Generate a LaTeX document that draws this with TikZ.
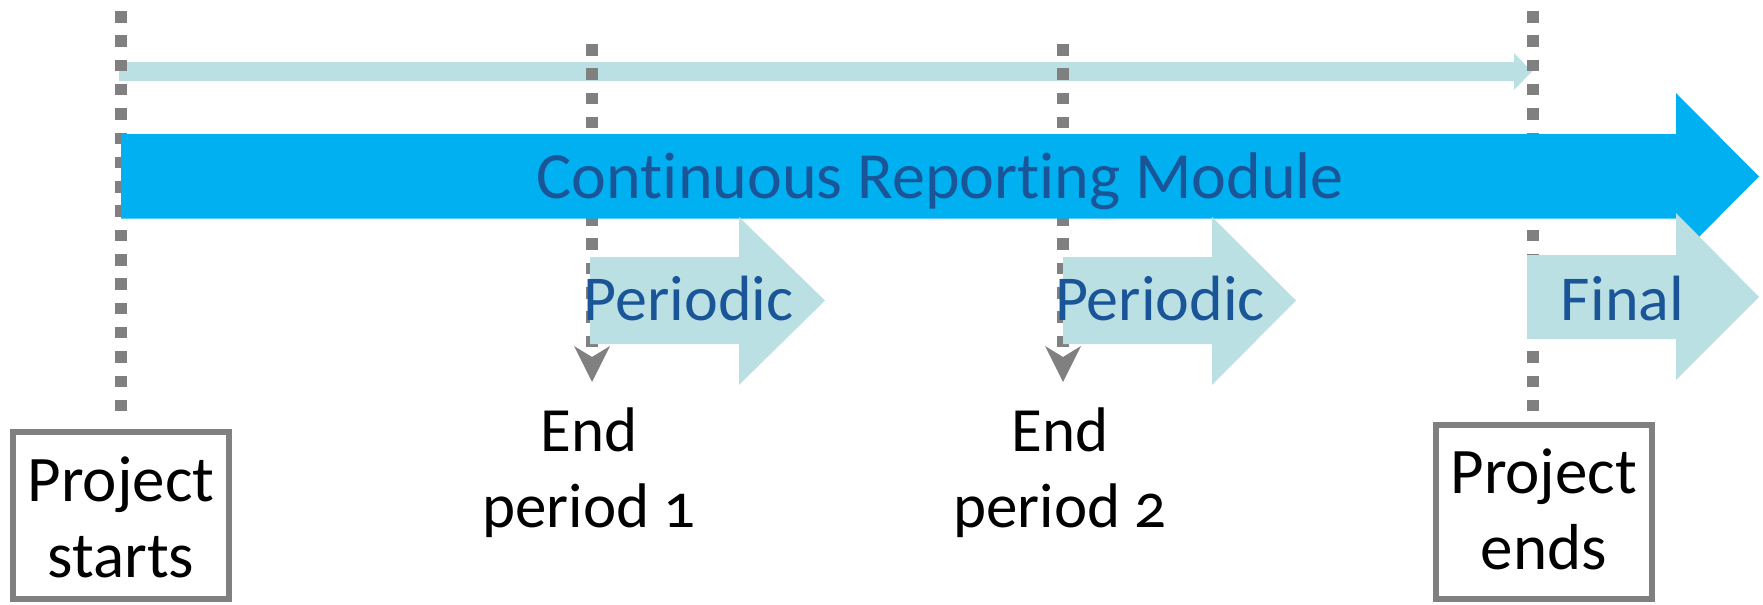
\documentclass[tikz,border=0pt]{standalone}
\usepackage{fontspec}
\setmainfont{Carlito}[Numbers=OldStyle, Ligatures=NoCommon]
\usetikzlibrary{arrows.meta}
\definecolor{mainblue}{HTML}{00B0F0}
\definecolor{paleteal}{HTML}{BAE0E3}
\definecolor{labelblue}{HTML}{1A5598}
\definecolor{markgrey}{HTML}{808080}
\tikzset{
  dotline/.style={draw=markgrey, line width=6pt, dash pattern=on 5.75pt off 6.4pt},
  dotarrow/.style={dotline, -{Stealth[length=18pt, width=18pt, inset=5.5pt, line width=0pt]}},
  blocktext/.style={text=labelblue, font=\fontsize{32}{38}\selectfont, inner sep=0pt, anchor=base},
  blacktext/.style={text=black, font=\fontsize{31.5}{38}\selectfont, align=center, inner sep=0pt},
  pbox/.style={draw=markgrey, line width=3pt, minimum width=108pt, minimum height=83.5pt,
    align=center, inner sep=0pt, font=\fontsize{32.5}{38}\selectfont, text depth=0pt}
}
\begin{document}
\begin{tikzpicture}[x=0.5pt,y=-0.5pt]
\useasboundingbox (0,0) rectangle (1763,605);
% thin arrow (whole project span)
\fill[paleteal] (119,62) -- (1514,62) -- (1514,53) -- (1532,71.5) -- (1514,90) -- (1514,81) -- (119,81) -- cycle;
% dotted time markers
\coordinate (stop) at (121,11);
\coordinate (sbot) at (121,412);
\coordinate (ftop) at (1533,11);
\coordinate (fbot) at (1533,412);
\coordinate (m1top) at (592,44);
\coordinate (m1tip) at (592,382);
\coordinate (m2top) at (1063,44);
\coordinate (m2tip) at (1063,382);
\draw[dotline] (stop) -- (sbot);
\draw[dotline] (ftop) -- (fbot);
\draw[dotarrow] (m1top) -- (m1tip);
\draw[dotarrow] (m2top) -- (m2tip);
% big blue arrow
\fill[mainblue] (121,134) -- (1676,134) -- (1676,93) -- (1759,176.5) -- (1676,260) -- (1676,218.5) -- (121,218.5) -- cycle;
% periodic and final arrows
\fill[paleteal] (590,257) -- (739,257) -- (739,217) -- (825,300.5) -- (739,385) -- (739,344) -- (590,344) -- cycle;
\fill[paleteal] (1063,257) -- (1212,257) -- (1212,217) -- (1296,300.5) -- (1212,385) -- (1212,344) -- (1063,344) -- cycle;
\fill[paleteal] (1527,255) -- (1676,255) -- (1676,213) -- (1759,297) -- (1676,380) -- (1676,339) -- (1527,339) -- cycle;
% texts
\node[blocktext, font=\fontsize{33}{40}\selectfont] (crm) at (940.5,198.5) {Continuous Reporting Module};
\node[blocktext] (per1) at (688.5,320.7) {Periodic};
\node[blocktext] (per2) at (1160,320.7) {Periodic};
\node[blocktext] (fin) at (1622.5,320) {Final};
\node[blacktext, anchor=base] (e1) at (589,527) {End\\period 1};
\node[blacktext, anchor=base] (e2) at (1060,527) {End\\period 2};
\node[pbox, text height=61.5pt] (ps) at (121,515.5) {Project\\starts};
\node[pbox, text height=57.5pt, minimum width=107.75pt, minimum height=87pt] (pe) at (1543.75,512) {Project\\ends};
\end{tikzpicture}
\end{document}
